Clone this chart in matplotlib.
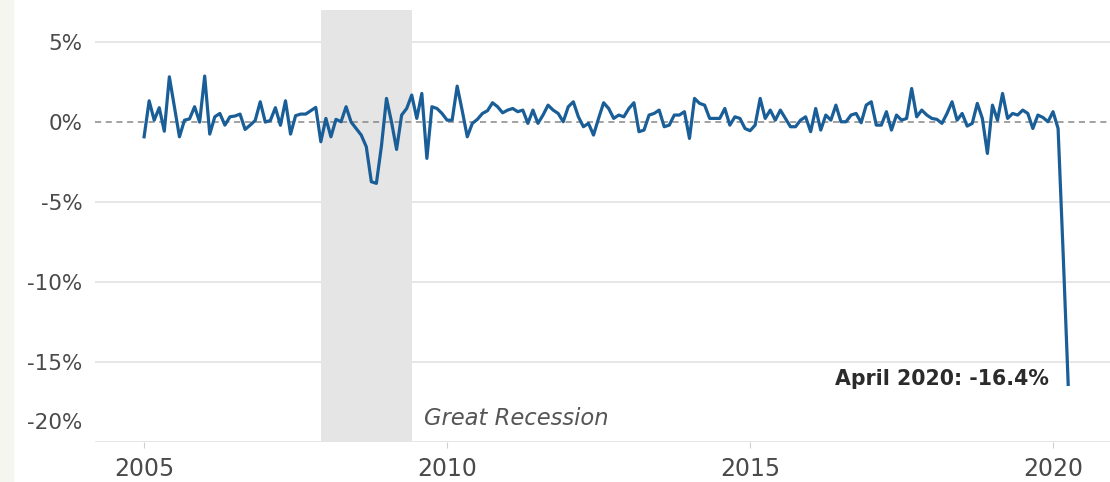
import numpy as np
import matplotlib
matplotlib.use("Agg")
import matplotlib.pyplot as plt

# monthly % change, Jan 2005 .. Apr 2020
start_year = 2005
pct_change = [
    # 2005
    -0.92, 1.33, 0.12, 0.90, -0.57, 2.83, 0.95, -0.92, 0.12, 0.20, 0.96, 0.00,
    # 2006
    2.88, -0.75, 0.33, 0.54, -0.19, 0.33, 0.38, 0.50, -0.46, -0.19, 0.10, 1.27,
    # 2007
    0.00, 0.10, 0.90, -0.20, 1.33, -0.75, 0.40, 0.50, 0.50, 0.71, 0.92, -1.23,
    # 2008
    0.23, -0.92, 0.17, 0.02, 0.96, 0.00, -0.40, -0.81, -1.54, -3.73, -3.83, -1.50,
    # 2009
    1.48, 0.00, -1.71, 0.44, 0.85, 1.69, 0.23, 1.79, -2.27, 0.96, 0.85, 0.54,
    # 2010
    0.12, 0.12, 2.25, 0.71, -0.92, -0.08, 0.17, 0.54, 0.71, 1.21, 0.96, 0.58,
    # 2011
    0.75, 0.85, 0.65, 0.75, -0.08, 0.75, -0.08, 0.44, 1.06, 0.75, 0.54, 0.02,
    # 2012
    0.96, 1.27, 0.33, -0.29, -0.08, -0.81, 0.23, 1.21, 0.85, 0.23, 0.44, 0.33,
    # 2013
    0.85, 1.21, -0.60, -0.50, 0.44, 0.54, 0.75, -0.29, -0.19, 0.44, 0.44, 0.65,
    # 2014
    -1.02, 1.48, 1.17, 1.06, 0.23, 0.23, 0.23, 0.85, -0.19, 0.33, 0.23, -0.40,
    # 2015
    -0.54, -0.19, 1.48, 0.23, 0.75, 0.12, 0.75, 0.23, -0.29, -0.29, 0.12, 0.33,
    # 2016
    -0.60, 0.85, -0.50, 0.44, 0.12, 1.06, 0.02, 0.02, 0.44, 0.54, -0.04, 1.06,
    # 2017
    1.27, -0.19, -0.19, 0.65, -0.50, 0.44, 0.12, 0.23, 2.10, 0.33, 0.75, 0.44,
    # 2018
    0.23, 0.17, -0.08, 0.54, 1.27, 0.12, 0.54, -0.25, -0.08, 1.17, 0.23, -1.96,
    # 2019
    1.06, 0.12, 1.79, 0.23, 0.54, 0.44, 0.75, 0.54, -0.40, 0.44, 0.29, 0.02,
    # 2020
    0.65, -0.40, -8.20, -16.40,
]
recession = (2007 + 11 / 12, 2009 + 5 / 12)   # Dec 2007 - Jun 2009
y_ticks = [5, 0, -5, -10, -15, -20]
x_ticks = [2005, 2010, 2015, 2020]

months = start_year + np.arange(len(pct_change)) / 12.0

plt.rcParams['font.family'] = ['DejaVu Sans']

fig = plt.figure(figsize=(11.1, 4.82), dpi=100)
ax = fig.add_axes([0.0856, 0.083, 0.9144, 0.896])

# faint slide edge on the left
fig.patches.append(plt.Rectangle((0, 0), 0.012, 1, transform=fig.transFigure,
                                 color='#f5f6ef', zorder=0))

for yv in y_ticks:
    if yv == 0:
        continue
    ax.axhline(yv, color='#e2e2e2', lw=1.2, zorder=1)
ax.axhline(0, color='#888888', lw=1.1, ls=(0, (4, 3)), zorder=2)

ax.axvspan(recession[0], recession[1], color='#e5e5e5', lw=0, zorder=1.5)

ax.plot(months, pct_change, color='#1a5e98', lw=2.3, zorder=3,
        solid_joinstyle='round')

ax.set_xlim(2004.19, 2020.94)
ax.set_ylim(-20, 7)

for s in ax.spines.values():
    s.set_visible(False)

ax.set_xticks(x_ticks)
ax.set_xticklabels([str(x) for x in x_ticks])
ax.tick_params(axis='x', length=4, color='#d0d0d0', labelsize=17,
               labelcolor='#4a4a4a', pad=7)

ax.set_yticks(y_ticks[:-1])
ax.set_yticklabels(['%d%%' % v for v in y_ticks[:-1]])
ax.tick_params(axis='y', length=0, labelsize=15.5, labelcolor='#4a4a4a', pad=9)
ax.annotate('%d%%' % y_ticks[-1], xy=(0, y_ticks[-1]),
            xycoords=('axes fraction', 'data'), xytext=(-9, 14),
            textcoords='offset points', ha='right', va='center',
            fontsize=15.5, color='#4a4a4a')

ax.annotate('April 2020: -16.4%', xy=(months[-1], pct_change[-1]),
            xytext=(-14, 4), textcoords='offset points', ha='right',
            va='center', fontsize=14.8, fontweight='bold', color='#2b2b2b')
ax.annotate('Great Recession', xy=(recession[1], -20), xytext=(9, 17),
            textcoords='offset points', ha='left', va='center',
            fontsize=16.3, fontstyle='italic', color='#555555')

fig.savefig('out.png', dpi=100)
